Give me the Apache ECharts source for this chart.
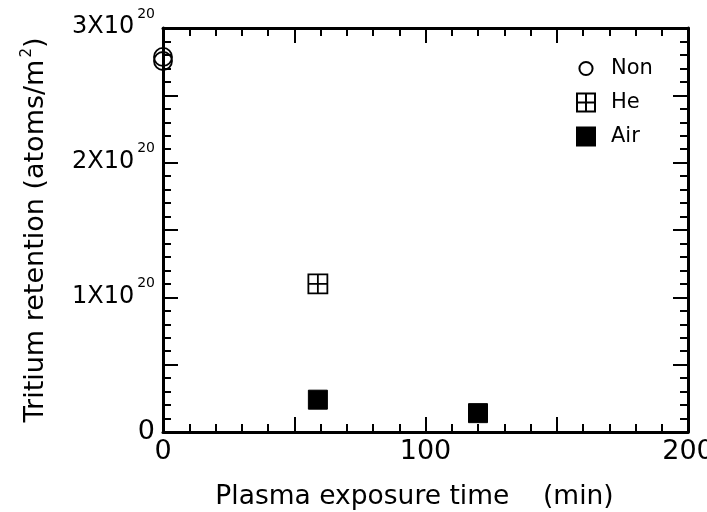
<!DOCTYPE html>
<html>
<head>
<meta charset="utf-8">
<script src="https://cdn.jsdelivr.net/npm/echarts@6/dist/echarts.min.js"></script>
<style>html,body{margin:0;padding:0;background:#fff}#c{width:707px;height:512px}</style>
</head>
<body>
<div id="c"></div>
<script>
// Data (retention in units of 1e20 atoms/m^2, time in min)
var seriesNames = ['Non', 'He', 'Air'];
var nonData = [[0, 2.785], [0, 2.755]];
var heData = [[59, 1.10]];
var airData = [[59, 0.24], [120, 0.14]];
var xTickLabels = {0: '0', 100: '100', 200: '200'};
var yTickLabels = {0: '0', 1: '1X10', 2: '2X10', 3: '3X10'};

var FONT = 'DejaVu Sans';
var chart = echarts.init(document.getElementById('c'));
var crossPath = 'path://M0,0H20V20H0Z M10,0V20 M0,10H20';
var legendCircle = 'path://M0,0 M26,26 M13,3.5 A9.5,9.5 0 1 1 12.99,3.5 Z';

function axisCommon() {
  return {
    axisLine: {show: true, onZero: false, lineStyle: {color: '#000', width: 3}},
    axisTick: {show: true, inside: true, length: 15, lineStyle: {color: '#000', width: 2}},
    minorTick: {show: true, splitNumber: 5, length: 8, lineStyle: {color: '#000', width: 2}},
    splitLine: {show: false},
    minorSplitLine: {show: false}
  };
}

var option = {
  backgroundColor: '#fff',
  animation: false,
  grid: {left: 163, right: 19, top: 28, bottom: 80, containLabel: false, outerBoundsMode: 'none'},
  legend: {
    orient: 'vertical',
    left: 576, top: 58, padding: 0,
    itemWidth: 18, itemHeight: 18, itemGap: 13,
    textStyle: {fontFamily: FONT, fontSize: 21, color: '#000', padding: [0, 0, 0, 11]},
    data: [
      {name: 'Non', icon: legendCircle},
      {name: 'He'},
      {name: 'Air'}
    ]
  },
  xAxis: [
    Object.assign({
      type: 'value', min: 0, max: 200, interval: 50, position: 'bottom',
      name: 'Plasma exposure time    (min)', nameLocation: 'middle', nameGap: 52,
      nameTextStyle: {fontFamily: FONT, fontSize: 26.5, color: '#000', padding: [0, 22, 0, 0]},
      axisLabel: {
        show: true, margin: 6, color: '#000', fontFamily: FONT, fontSize: 27,
        formatter: function (v) { return xTickLabels[v] !== undefined ? xTickLabels[v] : ''; }
      }
    }, axisCommon()),
    Object.assign({
      type: 'value', min: 0, max: 200, interval: 50, position: 'top',
      axisLabel: {show: false}
    }, axisCommon())
  ],
  yAxis: [
    Object.assign({
      type: 'value', min: 0, max: 3, interval: 0.5, position: 'left',
      name: 'Tritium retention (atoms/m{s|2})', nameLocation: 'middle', nameGap: 112, nameRotate: 90,
      nameTextStyle: {fontFamily: FONT, fontSize: 27, color: '#000',
        rich: {s: {fontFamily: FONT, fontSize: 15, color: '#000', verticalAlign: 'top', padding: [0, 0, 16, 2]}}},
      axisLabel: {
        show: true, margin: 8, color: '#000', fontFamily: FONT, fontSize: 24,
        formatter: function (v) {
          var t = yTickLabels[v];
          if (t === undefined) return '';
          if (v === 0) return '{z|0}';
          return '{b|' + t + '}{s|20}';
        },
        rich: {
          z: {fontFamily: FONT, fontSize: 27, color: '#000'},
          b: {fontFamily: FONT, fontSize: 24, color: '#000', lineHeight: 22, verticalAlign: 'bottom'},
          s: {fontFamily: FONT, fontSize: 14, color: '#000', lineHeight: 14, verticalAlign: 'bottom', padding: [0, 0, 18, 3]}
        }
      }
    }, axisCommon()),
    Object.assign({
      type: 'value', min: 0, max: 3, interval: 0.5, position: 'right',
      axisLabel: {show: false}
    }, axisCommon())
  ],
  series: [
    {
      name: 'Non', type: 'scatter', data: nonData, clip: false,
      symbol: 'circle', symbolSize: 18,
      itemStyle: {color: 'rgba(255,255,255,0)', borderColor: '#000', borderWidth: 1.8, opacity: 1}
    },
    {
      name: 'He', type: 'scatter', data: heData, clip: false,
      symbol: crossPath, symbolSize: 19,
      itemStyle: {color: '#fff', borderColor: '#000', borderWidth: 1.8, opacity: 1}
    },
    {
      name: 'Air', type: 'scatter', data: airData, clip: false,
      symbol: 'rect', symbolSize: 19,
      itemStyle: {color: '#000', borderColor: '#000', borderWidth: 1, opacity: 1}
    }
  ]
};
chart.setOption(option);
</script>
</body>
</html>
